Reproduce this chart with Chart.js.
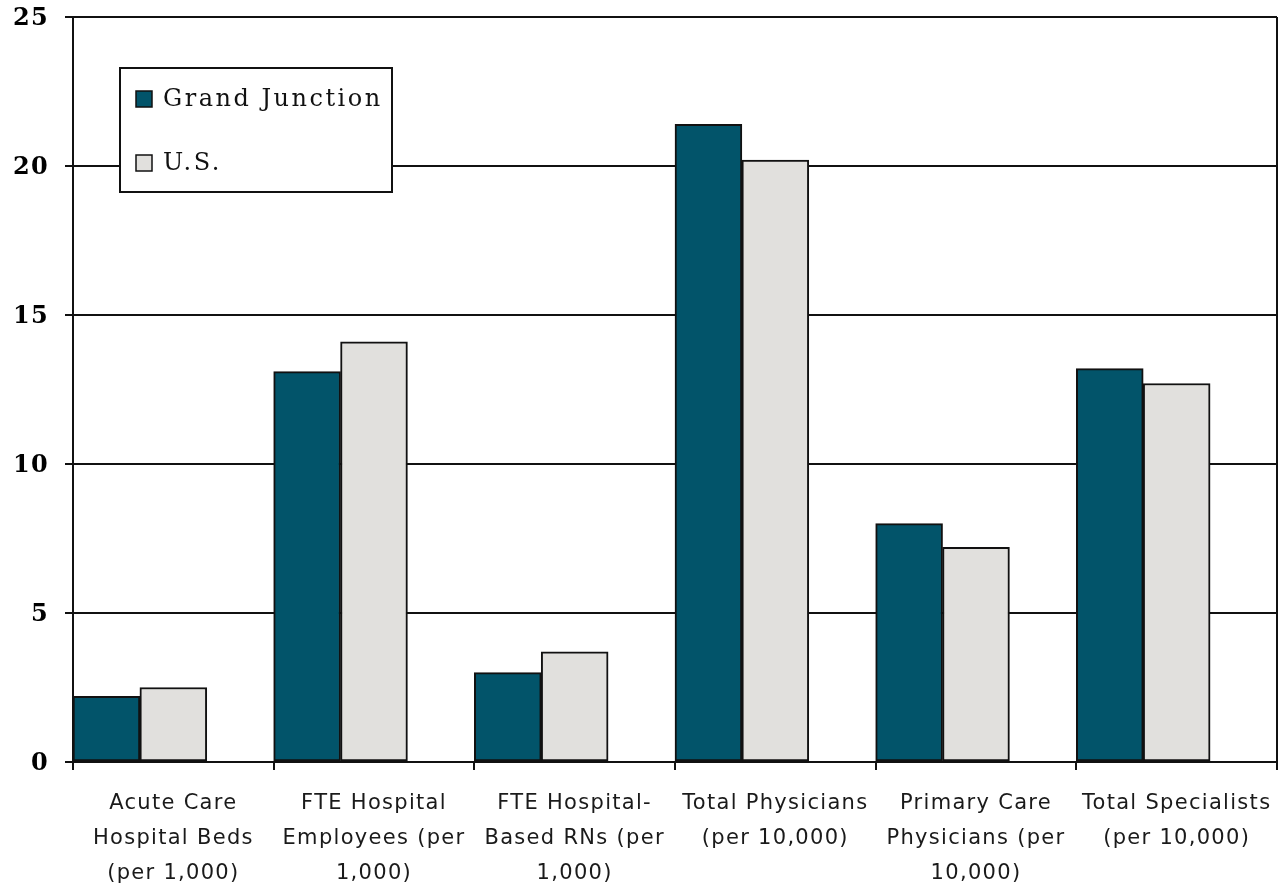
<!DOCTYPE html>
<html>
<head>
<meta charset="utf-8">
<script src="https://cdn.jsdelivr.net/npm/chart.js@4.4.1/dist/chart.umd.min.js"></script>
<style>
    html, body { margin: 0; padding: 0; background: #fff; }
    #wrap { width: 1281px; height: 888px; }
</style>
</head>
<body>
<div id="wrap"><canvas id="resourceChart" width="1281" height="888"></canvas></div>
<script>
// categories (x tick labels, split over lines)
const categories = [
    ["Acute Care", "Hospital Beds", "(per 1,000)"],
    ["FTE Hospital", "Employees (per", "1,000)"],
    ["FTE Hospital-", "Based RNs (per", "1,000)"],
    ["Total Physicians", "(per 10,000)"],
    ["Primary Care", "Physicians (per", "10,000)"],
    ["Total Specialists", "(per 10,000)"]
];

const grandJunction = [2.2, 13.1, 3.0, 21.4, 8.0, 13.2];
const usValues = [2.5, 14.1, 3.7, 20.2, 7.2, 12.7];

const yTicks = [0, 5, 10, 15, 20, 25];

// excel left an empty third slot in every group, so bars sit left of centre
const emptySlot = [null, null, null, null, null, null];

// draws the boxed legend up in the corner + the frame round the plot
const boxLegend = {
    id: "boxLegend",
    beforeDraw(chart) {
        // the old excel fonts are spaced out a bit
        chart.ctx.letterSpacing = "1.3px";
    },
    afterDraw(chart) {
        const ctx = chart.ctx;
        const area = chart.chartArea;
        ctx.save();
        ctx.strokeStyle = "#111";
        ctx.lineWidth = 2;
        ctx.beginPath();
        ctx.moveTo(area.right, area.top);
        ctx.lineTo(area.right, area.bottom);
        ctx.stroke();

        // legend box
        ctx.fillStyle = "#fff";
        ctx.fillRect(120, 68, 272, 124);
        ctx.strokeRect(120, 68, 272, 124);

        const rows = [99, 163];
        ctx.font = "24px 'DejaVu Serif'";
        ctx.letterSpacing = "2.5px";
        ctx.textBaseline = "middle";
        for (let i = 0; i < 2; i++) {
            let ds = chart.data.datasets[i];
            ctx.fillStyle = ds.backgroundColor;
            ctx.fillRect(136, rows[i] - 8, 16, 16);
            ctx.lineWidth = 1.5;
            ctx.strokeRect(136, rows[i] - 8, 16, 16);
            ctx.fillStyle = "#111";
            ctx.fillText(ds.label, 163, rows[i] + 1);
        }
        ctx.restore();
        ctx.letterSpacing = "0px";
    }
};

new Chart("resourceChart", {
    type: "bar",
    data: {
        labels: categories,
        datasets: [
            {
                label: "Grand Junction",
                data: grandJunction,
                backgroundColor: "#02546A",
                borderColor: "#111",
                borderWidth: 2,
                borderSkipped: false
            },
            {
                label: "U.S.",
                data: usValues,
                backgroundColor: "#E1E0DD",
                borderColor: "#111",
                borderWidth: 2,
                borderSkipped: false
            },
            {
                label: "",
                data: emptySlot
            }
        ]
    },
    options: {
        responsive: false,
        animation: false,
        layout: { padding: { top: 17, right: 4, left: 0, bottom: 0 } },
        datasets: { bar: { categoryPercentage: 1, barPercentage: 1 } },
        plugins: {
            legend: { display: false },
            tooltip: { enabled: false }
        },
        scales: {
            x: {
                offset: true,
                afterFit(scale) {
                    scale.height = 126;
                    scale.paddingLeft = 0;
                    scale.paddingRight = 0;
                },
                grid: {
                    offset: true,
                    drawOnChartArea: false,
                    color: "#111",
                    lineWidth: 2,
                    tickLength: 8
                },
                border: { display: true, color: "#111", width: 2 },
                ticks: {
                    maxRotation: 0,
                    autoSkip: false,
                    padding: 16,
                    color: "#1a1a1a",
                    font: { family: "'DejaVu Sans'", size: 21, lineHeight: 1.67 }
                }
            },
            y: {
                min: 0,
                max: 25,
                afterFit(scale) {
                    scale.width = 73;
                    scale.paddingTop = 0;
                    scale.paddingBottom = 0;
                },
                afterBuildTicks(scale) {
                    scale.ticks = yTicks.map(v => ({ value: v }));
                },
                grid: {
                    color: "#111",
                    lineWidth: 2,
                    tickLength: 8
                },
                border: { display: true, color: "#111", width: 2 },
                ticks: {
                    padding: 16,
                    labelOffset: 2,
                    color: "#000",
                    font: { family: "'DejaVu Serif'", size: 24, weight: "bold" }
                }
            }
        }
    },
    plugins: [boxLegend]
});
</script>
</body>
</html>
